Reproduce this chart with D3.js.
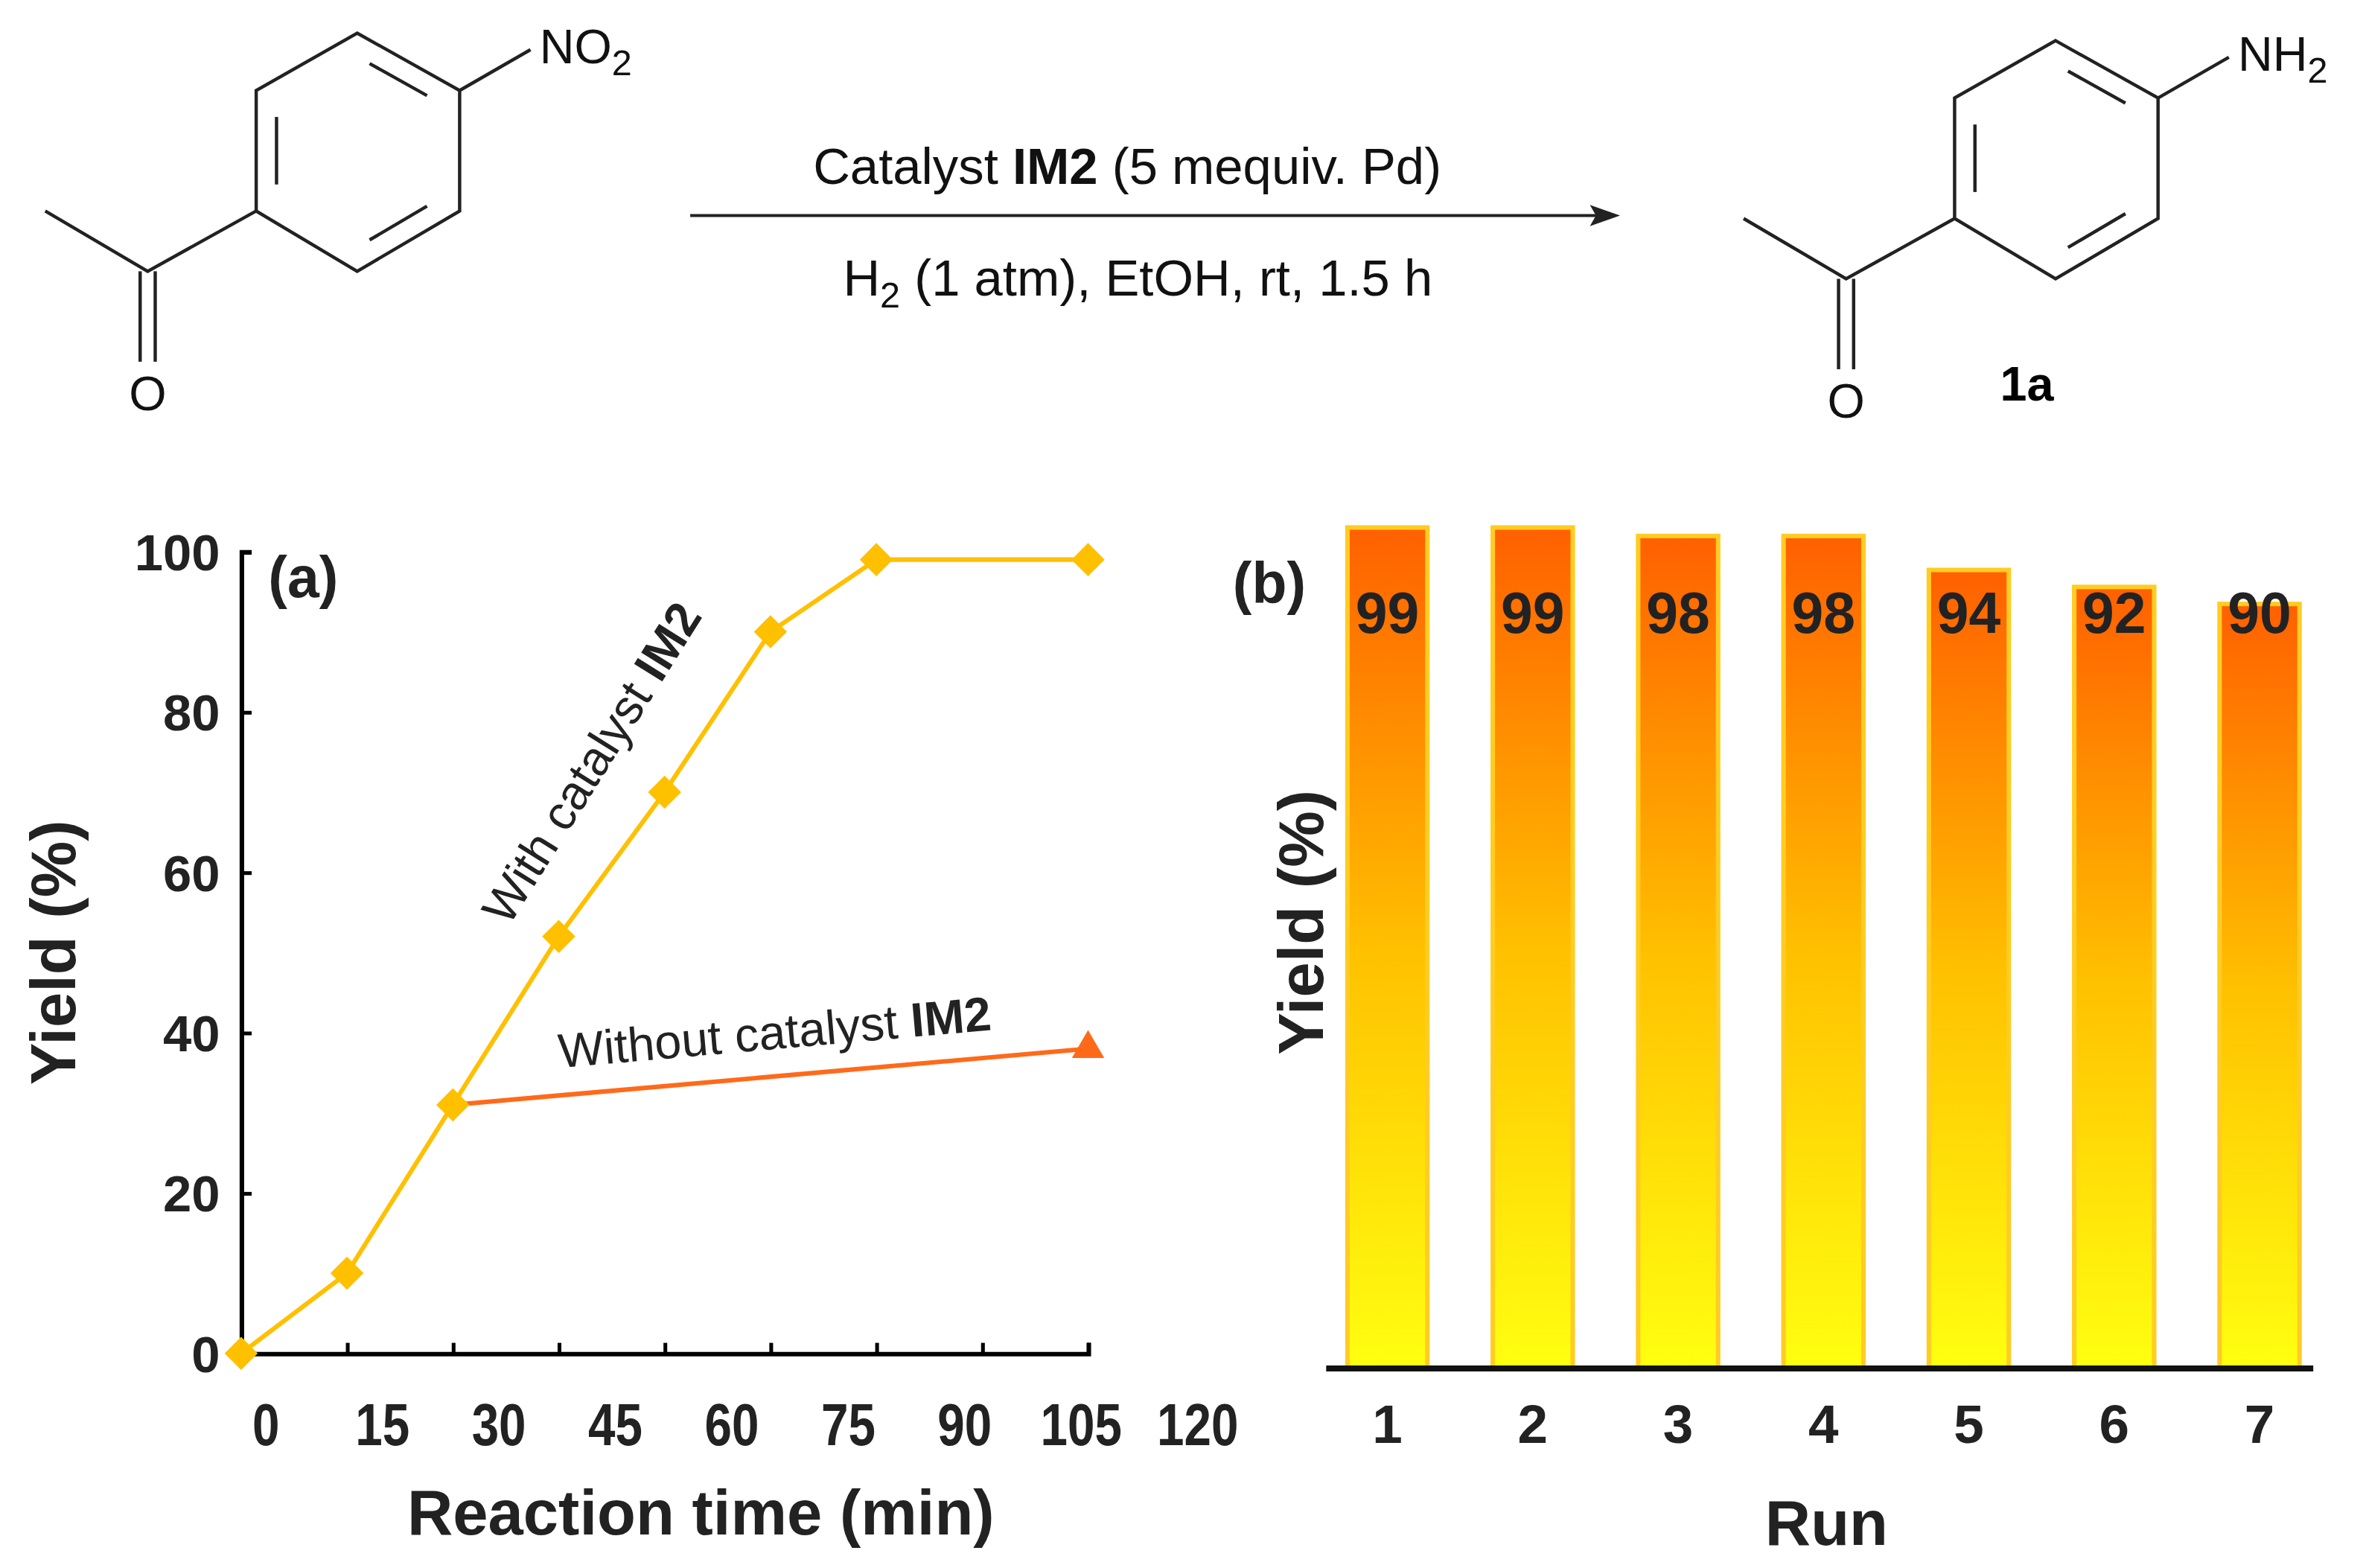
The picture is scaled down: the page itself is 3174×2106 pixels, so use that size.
<!DOCTYPE html>
<html><head><meta charset="utf-8">
<script src="https://cdn.jsdelivr.net/npm/d3@7"></script>
<style>body{margin:0;background:#fff}svg{display:block}</style>
</head><body><svg id="chart" width="3174" height="2106"></svg>
<script>
// data
var timeTicks = [0, 15, 30, 45, 60, 75, 90, 105, 120];
var yieldTicks = [0, 20, 40, 60, 80, 100];
var withTime = [0, 15, 30, 45, 60, 75, 90, 120];
var withYield = [0, 10, 31, 52, 70, 90, 99, 99];
var withoutTime = [30, 120];
var withoutYield = [31, 38];
var runs = ["1", "2", "3", "4", "5", "6", "7"];
var runYield = [99, 99, 98, 98, 94, 92, 90];

var s = 3174 / 1568;
var svg = d3.select("#chart");
var g = svg.append("g").attr("transform", "scale(" + s + ")");
var font = "Liberation Sans, Arial, sans-serif";

// ---- reaction scheme ----
function molecule(dx, dy, subText) {
  var m = g.append("g").attr("transform", "translate(" + dx + "," + dy + ")")
    .attr("stroke", "#222").attr("stroke-width", 2.2).attr("fill", "none");
  var pts = [[237,22],[305,60],[305,140],[237,180],[170,140],[170,60]];
  m.append("path").attr("d", "M" + pts.join("L") + "Z");
  // inner double bonds
  [[0,1],[2,3],[4,5]].forEach(function (e) {
    var a = pts[e[0]], b = pts[e[1]], c = [237.5,100];
    var f = 0.8, t = 0.15;
    var a2 = [c[0] + (a[0]-c[0])*f, c[1] + (a[1]-c[1])*f];
    var b2 = [c[0] + (b[0]-c[0])*f, c[1] + (b[1]-c[1])*f];
    m.append("line")
      .attr("x1", a2[0] + (b2[0]-a2[0])*t).attr("y1", a2[1] + (b2[1]-a2[1])*t)
      .attr("x2", b2[0] - (b2[0]-a2[0])*t).attr("y2", b2[1] - (b2[1]-a2[1])*t);
  });
  m.append("line").attr("x1", 305).attr("y1", 60).attr("x2", 352).attr("y2", 33);
  m.append("path").attr("d", "M170,140L98,180L30,140");
  m.append("line").attr("x1", 93).attr("y1", 180).attr("x2", 93).attr("y2", 240);
  m.append("line").attr("x1", 103).attr("y1", 180).attr("x2", 103).attr("y2", 240);
  var t = g.append("g").attr("transform", "translate(" + dx + "," + dy + ")")
    .attr("font-family", font).attr("font-size", 32).attr("fill", "#111");
  t.append("text").attr("x", 98).attr("y", 272).attr("text-anchor", "middle").text("O");
  var st = t.append("text").attr("x", 358).attr("y", 42);
  st.append("tspan").text(subText);
  st.append("tspan").attr("font-size", 24).attr("dy", 8).text("2");
}
molecule(0, 0, "NO");
molecule(1127, 5, "NH");
g.append("text").attr("x", 1345).attr("y", 266).attr("text-anchor", "middle")
  .attr("font-family", font).attr("font-size", 32).attr("font-weight", "bold").text("1a");

g.append("line").attr("x1", 458).attr("y1", 143).attr("x2", 1060).attr("y2", 143)
  .attr("stroke", "#222").attr("stroke-width", 2);
g.append("path").attr("d", "M1075,143L1055,136L1059,143L1055,150Z").attr("fill", "#222");
var c1 = g.append("text").attr("x", 748).attr("y", 122).attr("text-anchor", "middle")
  .attr("font-family", font).attr("font-size", 34).attr("fill", "#111");
c1.append("tspan").text("Catalyst ");
c1.append("tspan").attr("font-weight", "bold").text("IM2");
c1.append("tspan").text(" (5 mequiv. Pd)");
var c2 = g.append("text").attr("x", 755).attr("y", 196).attr("text-anchor", "middle")
  .attr("font-family", font).attr("font-size", 34).attr("fill", "#111");
c2.append("tspan").text("H");
c2.append("tspan").attr("font-size", 24).attr("dy", 8).text("2");
c2.append("tspan").attr("dy", -8).text(" (1 atm), EtOH, rt, 1.5 h");

// ---- chart (a) ----
var xa = d3.scaleLinear().domain([0, 120]).range([160, 722]);
var ya = d3.scaleLinear().domain([0, 100]).range([898, 366]);
var ax = g.append("g").attr("font-family", font).attr("font-weight", "bold");
ax.append("g").attr("transform", "translate(0,898)")
  .call(d3.axisBottom(xa).tickValues(timeTicks).tickSize(-7).tickPadding(30))
  .call(function (a) {
    a.select(".domain").attr("stroke-width", 3);
    a.selectAll("line").attr("stroke-width", 2.5);
    a.selectAll("text").attr("font-size", 36).attr("font-family", font).attr("font-weight", "bold").attr("fill", "#222")
      .attr("transform", "scale(0.9,1.1)").attr("x", function (d) { return xa(d) / 0.9 - xa(d); });
  });
ax.selectAll(".tick").filter(function (d) { return timeTicks.indexOf(d) >= 0; });
ax.append("g").attr("transform", "translate(160,0)")
  .call(d3.axisLeft(ya).tickValues(yieldTicks).tickSize(-7).tickPadding(14))
  .call(function (a) {
    a.select(".domain").attr("stroke-width", 3);
    a.selectAll("line").attr("stroke-width", 2.5);
    a.selectAll("text").attr("font-size", 34).attr("font-family", font).attr("font-weight", "bold").attr("fill", "#222").attr("dy", "0.35em");
  });
ax.append("text").attr("x", 465).attr("y", 1018).attr("text-anchor", "middle")
  .attr("font-size", 42).attr("fill", "#222").text("Reaction time (min)");
ax.append("text").attr("transform", "translate(50,632) rotate(-90)").attr("text-anchor", "middle")
  .attr("font-size", 42).attr("fill", "#222").text("Yield (%)");
ax.append("text").attr("x", 178).attr("y", 396).attr("font-size", 38).attr("fill", "#222").text("(a)");

var line = d3.line().x(function (d) { return xa(d[0]); }).y(function (d) { return ya(d[1]); });
var wData = withTime.map(function (t, i) { return [t, withYield[i]]; });
var woData = withoutTime.map(function (t, i) { return [t, withoutYield[i]]; });
g.append("path").attr("d", line(woData)).attr("fill", "none").attr("stroke", "#ff6a1a").attr("stroke-width", 3);
g.append("path").attr("d", line(wData)).attr("fill", "none").attr("stroke", "#ffc000").attr("stroke-width", 3);
g.selectAll(".dia").data(wData).enter().append("path")
  .attr("d", "M0,-11L11,0L0,11L-11,0Z")
  .attr("transform", function (d) { return "translate(" + xa(d[0]) + "," + ya(d[1]) + ")"; })
  .attr("fill", "#ffc000");
g.append("path").attr("d", d3.symbol(d3.symbolTriangle, 200))
  .attr("transform", "translate(" + xa(120) + "," + ya(38) + ")").attr("fill", "#ff6a1a");

var a1 = g.append("text").attr("transform", "translate(402,512) rotate(-58)").attr("text-anchor", "middle")
  .attr("font-family", font).attr("font-size", 32).attr("fill", "#222");
a1.append("tspan").text("With catalyst ");
a1.append("tspan").attr("font-weight", "bold").text("IM2");
var a2 = g.append("text").attr("transform", "translate(515,696) rotate(-5)").attr("text-anchor", "middle")
  .attr("font-family", font).attr("font-size", 32).attr("fill", "#222");
a2.append("tspan").text("Without catalyst ");
a2.append("tspan").attr("font-weight", "bold").text("IM2");

// ---- chart (b) ----
var defs = svg.append("defs");
var grad = defs.append("linearGradient").attr("id", "bg").attr("x1", 0).attr("y1", 0).attr("x2", 0).attr("y2", 1);
grad.append("stop").attr("offset", "0%").attr("stop-color", "#ff6000");
grad.append("stop").attr("offset", "50%").attr("stop-color", "#ffc000");
grad.append("stop").attr("offset", "100%").attr("stop-color", "#ffff10");
var xb = d3.scaleBand().domain(runs).range([870, 1550]).paddingInner(0.45).paddingOuter(0.25);
var yb = d3.scaleLinear().domain([0, 99]).range([908, 350]);
g.selectAll(".bar").data(runs).enter().append("rect")
  .attr("x", function (d) { return xb(d); }).attr("width", xb.bandwidth())
  .attr("y", function (d, i) { return yb(runYield[i]); })
  .attr("height", function (d, i) { return 908 - yb(runYield[i]); })
  .attr("fill", "url(#bg)").attr("stroke", "#ffcc22").attr("stroke-width", 3);
g.selectAll(".bl").data(runs).enter().append("text")
  .attr("x", function (d) { return xb(d) + xb.bandwidth() / 2; })
  .attr("y", 420)
  .attr("text-anchor", "middle").attr("font-family", font).attr("font-weight", "bold")
  .attr("font-size", 38).attr("fill", "#222")
  .text(function (d, i) { return runYield[i]; });
var bx = g.append("g").attr("transform", "translate(0,908)")
  .call(d3.axisBottom(xb).tickSize(0).tickPadding(24));
bx.select(".domain").attr("stroke", "#111").attr("stroke-width", 4).attr("d", "M880,0H1535");
bx.selectAll("text").attr("font-size", 36).attr("font-family", font).attr("font-weight", "bold").attr("fill", "#222");
g.append("text").attr("x", 1212).attr("y", 1025).attr("text-anchor", "middle")
  .attr("font-family", font).attr("font-weight", "bold").attr("font-size", 42).attr("fill", "#222").text("Run");
g.append("text").attr("transform", "translate(878,612) rotate(-90)").attr("text-anchor", "middle")
  .attr("font-family", font).attr("font-weight", "bold").attr("font-size", 42).attr("fill", "#222").text("Yield (%)");
g.append("text").attr("x", 818).attr("y", 400).attr("font-family", font).attr("font-weight", "bold")
  .attr("font-size", 38).attr("fill", "#222").text("(b)");
</script></body></html>
